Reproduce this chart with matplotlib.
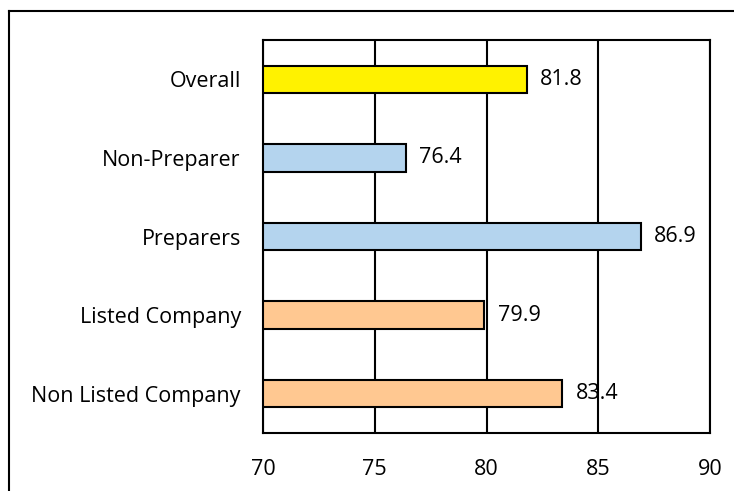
import matplotlib
matplotlib.use("Agg")
import matplotlib.pyplot as plt
from matplotlib.lines import Line2D

categories = ["Overall", "Non-Preparer", "Preparers", "Listed Company", "Non Listed Company"]
values = [81.8, 76.4, 86.9, 79.9, 83.4]
colors = ["#FFF200", "#B4D4EE", "#B4D4EE", "#FFC891", "#FFC891"]
xticks = [70, 75, 80, 85, 90]

plt.rcParams['font.family'] = ['Open Sans', 'DejaVu Sans']
FS = 15.5

fig = plt.figure(figsize=(7.34, 4.91), dpi=100)
W, H = 734, 491
ax = fig.add_axes([263 / W, 1 - 433 / H, (710 - 263) / W, (433 - 40) / H])

y = list(range(len(categories)))
left = 70
ax.barh(y, [v - left for v in values], left=left, height=0.35, color=colors,
        edgecolor="black", linewidth=1.5, zorder=3)
for yi, v in zip(y, values):
    ax.text(v + 0.6, yi, f"{v}", va="center", ha="left", fontsize=FS, zorder=4)

ax.set_xlim(70, 90)
ax.set_ylim(len(categories) - 0.5, -0.5)
ax.set_xticks(xticks)
ax.set_xticklabels([str(t) for t in xticks], fontsize=FS)
ax.set_yticks(y)
ax.set_yticklabels(categories, fontsize=FS)
ax.tick_params(axis="both", length=0)
ax.tick_params(axis="y", pad=16)
ax.tick_params(axis="x", pad=19)
ax.grid(axis="x", color="black", linewidth=1.5, zorder=1)
for s in ax.spines.values():
    s.set_linewidth(1.5)

# outer frame
fig.add_artist(Line2D([9 / W, 9 / W], [0, 1 - 11 / H], color="black", linewidth=1.5))
fig.add_artist(Line2D([9 / W, 1], [1 - 11 / H, 1 - 11 / H], color="black", linewidth=1.5))

fig.savefig("out.png", dpi=100)
